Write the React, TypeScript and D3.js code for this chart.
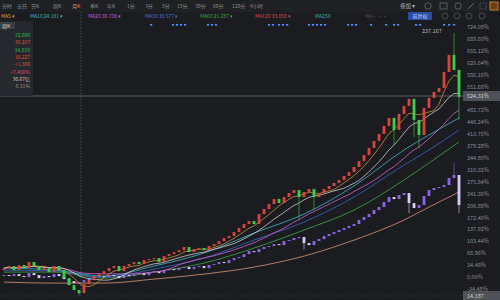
import React from "react";
import * as d3 from "d3";

// ---- data (percent change vs. base) ----
const mainClose = [
  26.1, 31.9, 20.3, 34.8, 26.1, 43.5, 31.9, 20.3, 26.1, 14.5,
  31.9, 20.3, -2.9, -23.2, -37.7, -46.4, -20.3, -8.7, 2.9, 8.7,
  17.4, 26.1, 31.9, 17.4, 31.9, 37.7, 43.5, 37.7, 49.3, 52.2,
  55.1, 43.5, 60.9, 66.7, 72.4, 78.2, 86.9, 72.4, 81.1, 84.0,
  78.2, 89.8, 95.6, 104.3, 113.0, 118.8, 130.4, 142.0, 153.6, 162.3,
  153.6, 182.5, 197.0, 211.5, 226.0, 214.4, 231.8, 243.4, 252.1, 231.8,
  246.3, 255.0, 231.8, 243.4, 255.0, 263.7, 272.4, 281.1, 292.7, 304.2,
  318.7, 336.1, 353.5, 373.8, 394.1, 414.4, 437.6, 460.8, 426.0, 472.4,
  495.6, 516.0, 455.0, 411.5, 489.8, 518.9, 536.0, 547.6, 594.0, 643.2,
  599.8, 521.6,
];
const mainFirstOpen = 20.3;
const mainWicks: Record<number, [number, number]> = {
  15: [-37, -52], 59: [250, 165], 62: [245, 194], 78: [462, 382],
  82: [516, 406], 83: [455, 374], 90: [707, 599.8], 91: [600, 455],
};

const cmpClose = [
  5.8, 2.9, 8.7, 2.9, 0, 11.6, 5.8, -2.9, 2.9, 0,
  8.7, 2.9, -5.8, -11.6, -17.4, -14.5, -8.7, -2.9, 0, 2.9,
  0, 5.8, 2.9, -2.9, 5.8, 2.9, 8.7, 11.6, 5.8, 14.5,
  17.4, 11.6, 20.3, 23.2, 20.3, 26.1, 29.0, 23.2, 29.0, 31.9,
  26.1, 34.8, 37.7, 43.5, 40.6, 49.3, 55.1, 58.0, 66.6, 75.3,
  72.4, 81.1, 86.9, 89.8, 95.6, 92.7, 104.3, 107.2, 113.0, 115.9,
  98.5, 92.7, 104.3, 110.1, 118.8, 124.6, 130.4, 136.2, 142.0, 147.8,
  153.6, 165.2, 173.9, 182.5, 194.1, 202.8, 217.3, 231.8, 226.0, 237.6,
  243.4, 214.4, 199.9, 208.6, 234.7, 252.1, 257.9, 260.8, 266.6, 286.9,
  295.5, 208.6,
];
const cmpFirstOpen = 2.9;
const cmpWicks: Record<number, [number, number]> = {
  60: [116, 80], 81: [243, 185], 90: [330, 286], 91: [295.5, 185],
};

// long moving averages (knots by candle index)
const maKnotIdx = [0, 10, 20, 30, 40, 50, 60, 70, 80, 85, 91];
const maTeal = [26.1, 20.3, 2.9, 31.9, 69.5, 127.5, 182.5, 263.7, 368.0, 411.5, 460.8];
const maBlue = [20.3, 17.4, 0, 23.2, 55.1, 107.2, 159.4, 231.8, 324.5, 368.0, 425.9];
const maGreen = [14.5, 14.5, -2.9, 14.5, 40.6, 84.0, 136.2, 194.1, 281.1, 330.3, 391.2];
const maPeach = [-14.5, -17.4, -17.4, -5.8, 8.7, 29.0, 60.8, 107.2, 165.2, 202.8, 246.3];

const tabs = ["分时", "五日", "日K", "周K", "月K", "季K", "年K", "1分", "3分", "5分", "15分", "30分", "60分", "120分", "4小时"];
const tabX = [2, 17, 31, 53, 72, 90, 107, 127, 145, 162, 177, 195, 213, 232, 250];
const activeTab = 4;

const legend = [
  { t: "MA5 ▾", x: 1, c: "#e0a040" },
  { t: "MA10 24.181 ▾", x: 30, c: "#3fb9c9" },
  { t: "MA20 30.738 ▾", x: 88, c: "#d060d0" },
  { t: "MA30 30.577 ▾", x: 145, c: "#4a72e0" },
  { t: "MA60 21.287 ▾", x: 200, c: "#3caa4c" },
  { t: "MA120 33.858 ▾", x: 255, c: "#d84a5c" },
  { t: "MA250", x: 315, c: "#2ab5aa" },
];

const markerX = [150, 172, 176, 180, 184, 207, 211, 215, 268, 272, 278, 282, 286, 308, 312, 316, 320, 324, 347, 351, 355, 370, 385, 393, 397, 415, 419, 443, 448, 453];

const axisTicks = d3.range(-1, 22).map((k) => k * 34.48);

const infoRows = [
  { t: "15.600", c: "#33c24e" },
  { t: "30.287", c: "#e0483e" },
  { t: "14.810", c: "#33c24e" },
  { t: "16.227", c: "#e0483e" },
  { t: "+1.306", c: "#e0483e" },
  { t: "+7.466%", c: "#e05070" },
  { t: "30.67亿", c: "#c8c8c8" },
  { t: "6.31%", c: "#9a9a9a" },
];

const W = 500, H = 300;
const FONT = "'Noto Sans CJK SC', 'Noto Sans', sans-serif";

function buildCandles(close: number[], firstOpen: number, wicks: Record<number, [number, number]>) {
  return close.map((c, i) => {
    const o = i === 0 ? firstOpen : close[i - 1];
    const w = wicks[i];
    const hi = Math.max(o, c, w ? w[0] : -Infinity);
    const lo = Math.min(o, c, w ? w[1] : Infinity);
    return { i, o, c, hi, lo };
  });
}

function sma(arr: number[], n: number) {
  return arr.map((_, i) => {
    const s = arr.slice(Math.max(0, i - n + 1), i + 1);
    return d3.mean(s) as number;
  });
}

export default function App() {
  const N = mainClose.length;
  const x = d3.scaleLinear().domain([0, N - 1]).range([4, 459]);
  const y = d3.scaleLinear().domain([-34.47, 724.08]).range([289, 27]);
  const main = buildCandles(mainClose, mainFirstOpen, mainWicks);
  const cmp = buildCandles(cmpClose, cmpFirstOpen, cmpWicks);
  const bw = 2.8;

  const knotLine = d3
    .line<number>()
    .x((_, k) => x(maKnotIdx[k]))
    .y((v) => y(v))
    .curve(d3.curveMonotoneX);
  const seriesLine = d3
    .line<number>()
    .x((_, i) => x(i))
    .y((v) => y(v));

  const ma5 = sma(mainClose, 5);
  const ma10 = sma(mainClose, 10);
  const ma20 = sma(mainClose, 20);

  const crossY = 96;
  const crossPct = y.invert(crossY);

  return (
    <svg width={W} height={H} style={{ position: "absolute", left: 0, top: 0, background: "#1b1c20", fontFamily: FONT }}>
      <rect width={W} height={H} fill="#1b1c20" />
      {/* top tabs */}
      <rect x={0} y={0} width={W} height={12} fill="#1e2024" />
      {tabs.map((t, k) => (
        <text key={t} x={tabX[k]} y={8} fontSize={5} fill={k === activeTab ? "#e8962e" : "#8d9096"}>{t}</text>
      ))}
      {/* top right icons */}
      <text x={400} y={8} fontSize={5.5} fill="#b0b3b8">叠加 ▾</text>
      <circle cx={428} cy={6} r={3.2} fill="none" stroke="#70737a" strokeWidth={0.7} />
      <rect x={440} y={3} width={7} height={6} fill="none" stroke="#70737a" strokeWidth={0.7} />
      <circle cx={458} cy={6} r={3.2} fill="none" stroke="#70737a" strokeWidth={0.7} />
      <path d="M468,9 L474,3" stroke="#70737a" strokeWidth={0.9} />
      <rect x={480} y={3} width={6} height={6} fill="none" stroke="#70737a" strokeWidth={0.7} strokeDasharray="1.5,1.5" />
      <rect x={490} y={2} width={8} height={8} fill="#6a3a1a" stroke="#e8962e" strokeWidth={0.8} />

      {/* legend row */}
      {legend.map((l) => (
        <text key={l.t} x={l.x} y={18} fontSize={5} fill={l.c}>{l.t}</text>
      ))}
      <text x={365} y={18} fontSize={5} fill="#5a5070">MA···</text>
      <rect x={408} y={12} width={24} height={8} rx={1} fill="#2a4ea6" />
      <text x={420} y={18} fontSize={5} fill="#cfd8ff" textAnchor="middle">前复权</text>
      {[445, 457, 469, 482].map((cx) => (
        <circle key={cx} cx={cx} cy={16} r={3} fill="none" stroke="#5c5f66" strokeWidth={0.7} />
      ))}
      {/* event markers */}
      {markerX.map((mx, k) => (
        <rect key={k} x={mx} y={24} width={2.2} height={1.6} fill="#5b8cff" />
      ))}

      {/* crosshair */}
      <line x1={81} x2={81} y1={12} y2={296} stroke="#6a6d73" strokeWidth={0.6} strokeDasharray="1.5,1.5" />
      <line x1={0} x2={463} y1={296} y2={296} stroke="#3c3f45" strokeWidth={0.6} strokeDasharray="1.5,1.5" />

      {/* long MAs */}
      <path d={knotLine(maPeach) || ""} fill="none" stroke="#d8967a" strokeWidth={0.8} />
      <path d={knotLine(maGreen) || ""} fill="none" stroke="#3caa4c" strokeWidth={0.8} />
      <path d={knotLine(maBlue) || ""} fill="none" stroke="#3a64c8" strokeWidth={0.8} />
      <path d={knotLine(maTeal) || ""} fill="none" stroke="#3fb9c9" strokeWidth={0.8} />

      {/* comparison candles */}
      {cmp.map((d) => {
        const up = d.c >= d.o;
        const col = up ? "#8e63e8" : "#d6ccf6";
        const top = y(Math.max(d.o, d.c));
        const h = Math.max(1, Math.abs(y(d.o) - y(d.c)));
        return (
          <g key={"p" + d.i}>
            <line x1={x(d.i)} x2={x(d.i)} y1={y(d.hi)} y2={y(d.lo)} stroke={col} strokeWidth={0.6} />
            <rect x={x(d.i) - bw / 2} y={top} width={bw} height={h} fill={col} />
          </g>
        );
      })}

      {/* short MAs */}
      <path d={seriesLine(ma20) || ""} fill="none" stroke="#d060d0" strokeWidth={0.8} />
      <path d={seriesLine(ma10) || ""} fill="none" stroke="#e8e0e8" strokeWidth={0.7} />
      <path d={seriesLine(ma5) || ""} fill="none" stroke="#e0a040" strokeWidth={0.7} />

      {/* main candles */}
      {main.map((d) => {
        const up = d.c >= d.o;
        const col = up ? "#d9443b" : "#38d14a";
        const top = y(Math.max(d.o, d.c));
        const h = Math.max(1, Math.abs(y(d.o) - y(d.c)));
        return (
          <g key={"m" + d.i}>
            <line x1={x(d.i)} x2={x(d.i)} y1={y(d.hi)} y2={y(d.lo)} stroke={col} strokeWidth={0.6} />
            <rect x={x(d.i) - bw / 2} y={top} width={bw} height={h} fill={col} />
          </g>
        );
      })}

      <text x={422} y={33} fontSize={5.5} fill="#b8bbc0">237.167</text>

      {/* horizontal crosshair */}
      <line x1={0} x2={463} y1={crossY} y2={crossY} stroke="#8a8d92" strokeWidth={0.6} />

      {/* right axis */}
      {axisTicks
        .filter((v) => Math.abs(y(v) - crossY) > 7)
        .map((v) => (
          <text key={v} x={467} y={y(v) + 2} fontSize={5.5} fill="#8c8f95">{v.toFixed(2)}%</text>
        ))}
      <rect x={463} y={crossY - 5} width={37} height={10} fill="#4f5258" />
      <text x={467} y={crossY + 2} fontSize={5.5} fill="#d0d2d6">{crossPct.toFixed(2)}%</text>
      <rect x={463} y={291} width={37} height={9} fill="#4f5258" />
      <text x={467} y={298} fontSize={5.5} fill="#d0d2d6">14.187</text>

      {/* left info panel */}
      <rect x={0} y={21} width={33} height={75} fill="#26292e" opacity={0.92} />
      <rect x={0} y={22} width={15} height={7} fill="#3a3d44" />
      <text x={2} y={27.5} fontSize={5} fill="#d8d8d8">周K</text>
      {infoRows.map((r, k) => (
        <text key={k} x={30} y={37 + k * 7.3} fontSize={5} fill={r.c} textAnchor="end">{r.t}</text>
      ))}
    </svg>
  );
}
